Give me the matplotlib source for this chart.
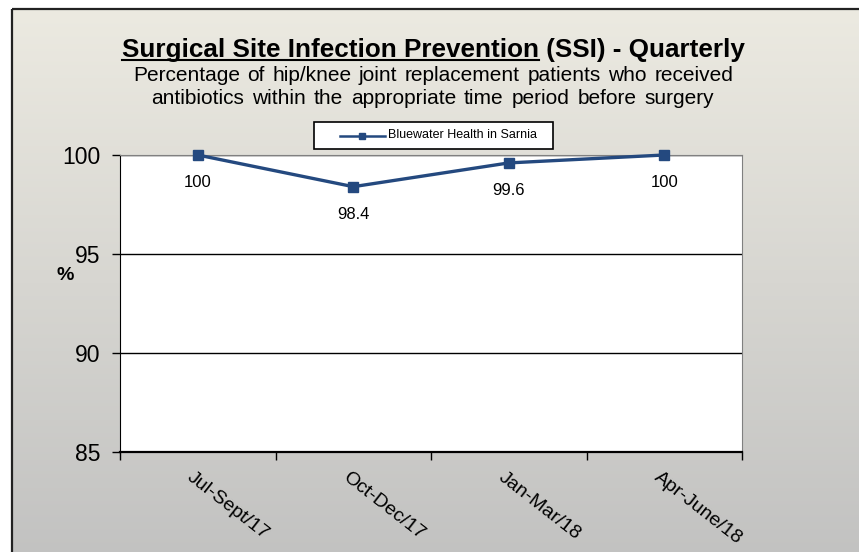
import numpy as np
import matplotlib.pyplot as plt
from matplotlib.patches import Rectangle
from matplotlib.lines import Line2D

plt.rcParams['font.family'] = ['Liberation Sans', 'DejaVu Sans']

quarters = ['Jul-Sept/17', 'Oct-Dec/17', 'Jan-Mar/18', 'Apr-June/18']
values = [100, 98.4, 99.6, 100]
labels = ['100', '98.4', '99.6', '100']
series_name = 'Bluewater Health in Sarnia'
yticks = [85, 90, 95, 100]
sub1 = 'Percentage of hip/knee joint replacement patients who received'
sub2 = 'antibiotics within the appropriate time period before surgery'
line_color = '#24497F'

W, H = 859, 552
fig = plt.figure(figsize=(W / 100, H / 100), dpi=100)

# gradient background inside the frame (this axes works in pixel coords)
bg = fig.add_axes([0, 0, 1, 1], zorder=-10)
bg.set_xlim(0, W)
bg.set_ylim(H, 0)
bg.axis('off')
top = np.array([236, 234, 225]) / 255
bot = np.array([194, 194, 193]) / 255
t = np.linspace(0, 1, 256)[:, None, None]
grad = top * (1 - t) + bot * t
grad = np.repeat(grad, 2, axis=1)
bg.imshow(grad, extent=[12, W + 5, H + 5, 9], aspect='auto')
bg.add_patch(Rectangle((12, 9), W, H, fill=False, edgecolor='#222222', linewidth=1.6))

ax = fig.add_axes([120 / W, 1 - 452 / H, 622 / W, 297 / H])
ax.set_facecolor('white')
x = np.arange(len(quarters))
line, = ax.plot(x, values, color=line_color, linewidth=2.4, marker='s', markersize=7,
                label=series_name, zorder=5, clip_on=False)
for xi, v, lab in zip(x, values, labels):
    ax.annotate(lab, (xi, v), xytext=(0, -20), textcoords='offset points',
                ha='center', va='center', fontsize=12)

ax.set_xlim(-0.5, len(quarters) - 0.5)
ax.set_ylim(85, 100)
ax.set_yticks(yticks)
ax.set_yticklabels([str(v) for v in yticks], fontsize=16.5)
ax.yaxis.grid(True, color='black', linewidth=1)
ax.set_axisbelow(True)
ax.set_xticks(np.arange(len(quarters) + 1) - 0.5)
ax.set_xticklabels([])
ax.tick_params(axis='both', direction='out', length=6, width=1, color='black')
ax.tick_params(axis='y', pad=8)
for xi, q in zip(x, quarters):
    ax.text(xi - 0.02, -0.055, q, transform=ax.get_xaxis_transform(), rotation=-38,
            rotation_mode='anchor', ha='left', va='top', fontsize=14)
ax.spines['left'].set_color('black')
ax.spines['bottom'].set_color('black')
ax.spines['bottom'].set_linewidth(1.6)
ax.spines['top'].set_color('#808080')
ax.spines['right'].set_color('#808080')

fig.text(65 / W, 1 - 275 / H, '%', fontsize=14, fontweight='bold', ha='center', va='center')

# title with the first part underlined
fig.canvas.draw()
r = fig.canvas.get_renderer()
part1 = 'Surgical Site Infection Prevention'
part2 = ' (SSI) - Quarterly'
cx, by = 433, 1 - 57 / H
tsize = 18.8
tmp = fig.text(0, 0, part1 + part2, fontsize=tsize, fontweight='bold')
wfull = tmp.get_window_extent(r).width
tmp.remove()
x0 = cx - wfull / 2
t1 = fig.text(x0 / W, by, part1, fontsize=tsize, fontweight='bold', va='baseline')
w1 = t1.get_window_extent(r).width
fig.text((x0 + w1) / W, by, part2, fontsize=tsize, fontweight='bold', va='baseline')
fig.add_artist(Line2D([x0 / W, (x0 + w1) / W], [1 - 60 / H, 1 - 60 / H],
                      color='black', linewidth=1.5))


# subtitle lines are justified between fixed edges, as in the original
def justified(text, left, right, ypix, size):
    words = text.split()
    ws = []
    for wd in words:
        tt = fig.text(0, 0, wd, fontsize=size)
        ws.append(tt.get_window_extent(r).width)
        tt.remove()
    gap = (right - left - sum(ws)) / (len(words) - 1)
    xp = left
    for wd, wv in zip(words, ws):
        fig.text(xp / W, 1 - ypix / H, wd, fontsize=size, ha='left', va='center')
        xp += wv + gap


justified(sub1, 133, 733, 76, 15)
justified(sub2, 151, 714, 99, 15)

# legend box drawn the way the original spreadsheet lays it out
bg.add_patch(Rectangle((314, 122), 239, 27, facecolor='white', edgecolor='black',
                       linewidth=1.2, zorder=3))
bg.plot([340, 385], [135.5, 135.5], color=line_color, linewidth=1.8, zorder=4)
bg.plot([362], [135.5], marker='s', markersize=4, color=line_color, zorder=4)
bg.text(388, 135.5, series_name, fontsize=9, ha='left', va='center', zorder=4)

fig.savefig('out.png', dpi=100)
